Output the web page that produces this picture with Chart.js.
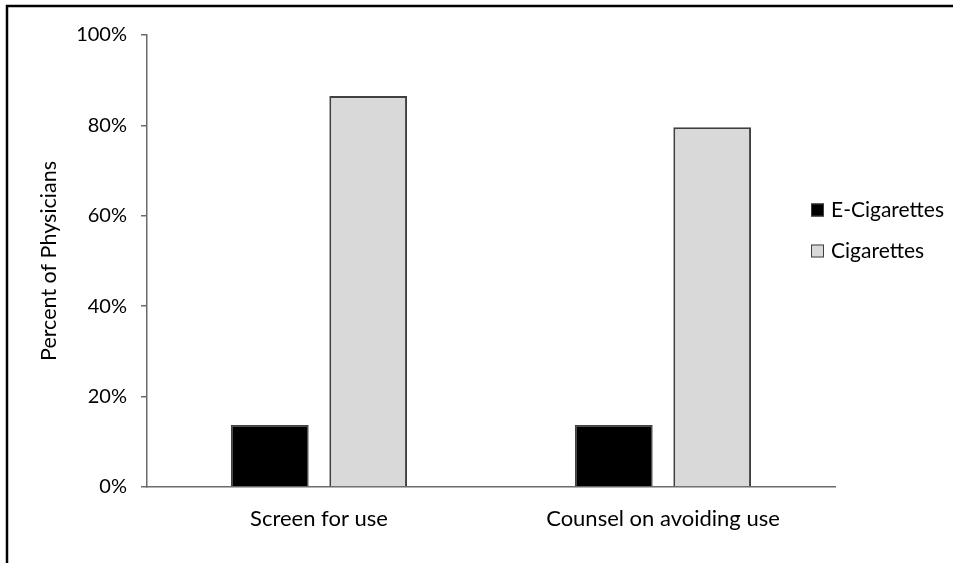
<!DOCTYPE html>
<html><head><meta charset="utf-8">
<style>html,body{margin:0;padding:0;background:#fff}#wrap{width:953px;height:563px}</style>
<script src="https://cdn.jsdelivr.net/npm/chart.js@4.4.0/dist/chart.umd.min.js"></script>
</head><body><div id="wrap"><canvas id="c" width="953" height="563"></canvas></div>
<script>
const categories = ['Screen for use', 'Counsel on avoiding use'];
const seriesNames = ['E-Cigarettes', 'Cigarettes'];
const eCigValues = [13.7, 13.7];
const cigValues = [86.5, 79.6];
const yTickValues = [0, 20, 40, 60, 80, 100];
const FONT = 'Lato, "Open Sans", sans-serif';

const framePlugin = {
  id: 'frame',
  beforeDraw(chart) {
    const ctx = chart.ctx;
    ctx.save();
    ctx.fillStyle = '#fff';
    ctx.fillRect(0, 0, chart.width, chart.height);
    ctx.restore();
  },
  afterDraw(chart) {
    const ctx = chart.ctx;
    ctx.save();
    ctx.strokeStyle = '#000';
    ctx.lineWidth = 2.5;
    ctx.beginPath();
    ctx.moveTo(7, chart.height);
    ctx.lineTo(7, 6);
    ctx.lineTo(chart.width, 6);
    ctx.stroke();
    // legend
    const items = chart.data.datasets;
    ctx.font = '21px ' + FONT;
    ctx.textBaseline = 'middle';
    ctx.textAlign = 'left';
    items.forEach((ds, i) => {
      const y = 210 + i * 41;
      ctx.fillStyle = ds.backgroundColor;
      ctx.fillRect(811, y - 6.5, 13, 13);
      ctx.strokeStyle = '#404040';
      ctx.lineWidth = 1;
      ctx.strokeRect(811.5, y - 6, 12, 12);
      ctx.fillStyle = '#000';
      ctx.fillText(ds.label, 831, y);
    });
    ctx.restore();
  }
};

new Chart(document.getElementById('c'), {
  type: 'bar',
  data: {
    labels: categories,
    datasets: [
      { label: seriesNames[0], data: eCigValues, backgroundColor: '#000000', borderColor: '#404040', borderWidth: 1.5 },
      { label: seriesNames[1], data: cigValues, backgroundColor: '#d9d9d9', borderColor: '#404040', borderWidth: 2 }
    ]
  },
  options: {
    responsive: false,
    animation: false,
    events: [],
    layout: { padding: { left: 0, top: 35, right: 118, bottom: 0 } },
    plugins: { legend: { display: false }, tooltip: { enabled: false } },
    datasets: { bar: { categoryPercentage: 0.572, barPercentage: 0.79 } },
    scales: {
      x: {
        grid: { display: true, drawOnChartArea: false, drawTicks: false },
        border: { display: true, color: '#6b6b6b', width: 1.5 },
        ticks: { color: '#000', font: { family: FONT, size: 22 }, padding: 19, maxRotation: 0 },
        afterFit(scale) { scale.height = 76; }
      },
      y: {
        min: 0, max: 100,
        afterBuildTicks(scale) { scale.ticks = yTickValues.map(v => ({ value: v })); },
        grid: { display: true, drawOnChartArea: false, drawTicks: true, tickLength: 6, color: '#6b6b6b', lineWidth: 1.5 },
        border: { display: true, color: '#6b6b6b', width: 1.5 },
        ticks: { color: '#000', font: { family: FONT, size: 20 }, padding: 14, callback: v => v + '%' },
        title: { display: true, text: 'Percent of Physicians', color: '#000', font: { family: FONT, size: 21.5 }, padding: { top: 36, bottom: 0 } },
        afterFit(scale) { scale.width = 147; }
      }
    }
  },
  plugins: [framePlugin]
});
</script></body></html>
